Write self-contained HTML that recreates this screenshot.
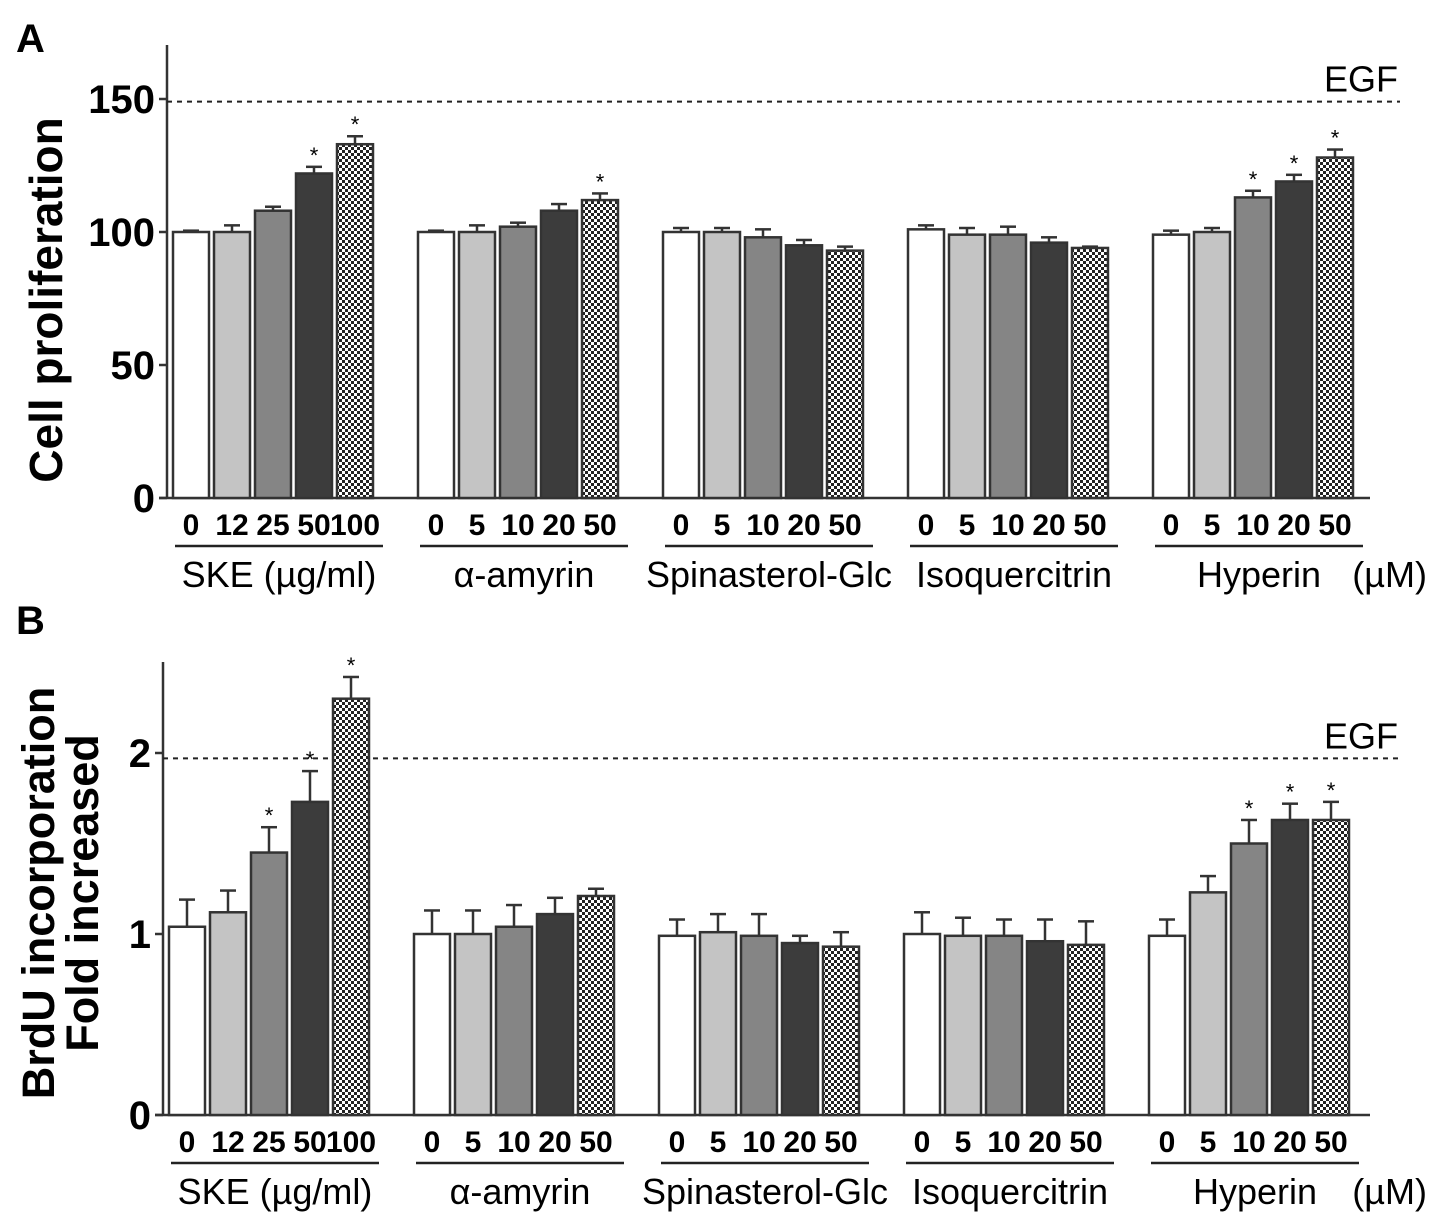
<!DOCTYPE html>
<html><head><meta charset="utf-8"><style>
body{margin:0;background:#fff;}
svg{display:block;font-family:"Liberation Sans",sans-serif;}
</style></head><body>
<svg id="c" width="1441" height="1228" viewBox="0 0 1441 1228">
<defs>
<pattern id="chk" width="6" height="6" patternUnits="userSpaceOnUse">
<rect width="6" height="6" fill="#fff"/><rect width="3" height="3" fill="#222"/><rect x="3" y="3" width="3" height="3" fill="#222"/>
</pattern>
</defs>
</svg>
<script>
const groupsA = ["SKE (\u00b5g/ml)","\u03b1-amyrin","Spinasterol-Glc","Isoquercitrin","Hyperin"];
const dosesA = [["0","12","25","50","100"],["0","5","10","20","50"],["0","5","10","20","50"],["0","5","10","20","50"],["0","5","10","20","50"]];
const valuesA = [[100,100,108,122,133],[100,100,102,108,112],[100,100,98,95,93],[101,99,99,96,94],[99,100,113,119,128]];
const errorsA = [[0.5,2.5,1.5,2.5,3],[0.5,2.5,1.5,2.5,2.5],[1.5,1.5,3,2,1.5],[1.5,2.5,3,2,0.5],[1.5,1.5,2.5,2.5,3]];
const starsA = [[0,0,0,1,1],[0,0,0,0,1],[0,0,0,0,0],[0,0,0,0,0],[0,0,1,1,1]];
const ticksA = [0,50,100,150];
const egfA = 149;
const valuesB = [[1.04,1.12,1.45,1.73,2.30],[1.0,1.0,1.04,1.11,1.21],[0.99,1.01,0.99,0.95,0.93],[1.0,0.99,0.99,0.96,0.94],[0.99,1.23,1.50,1.63,1.63]];
const errorsB = [[0.15,0.12,0.14,0.17,0.12],[0.13,0.13,0.12,0.09,0.04],[0.09,0.1,0.12,0.04,0.08],[0.12,0.1,0.09,0.12,0.13],[0.09,0.09,0.13,0.09,0.1]];
const starsB = [[0,0,1,1,1],[0,0,0,0,0],[0,0,0,0,0],[0,0,0,0,0],[0,0,1,1,1]];
const ticksB = [0,1,2];
const egfB = 1.97;

const svg = document.getElementById('c');
const NS = "http://www.w3.org/2000/svg";
const fills = ["#ffffff","#c4c4c4","#858585","#3c3c3c","url(#chk)"];
function mk(tag, attrs, text){
  const e = document.createElementNS(NS, tag);
  for (const k in attrs) e.setAttribute(k, attrs[k]);
  if (text !== undefined) e.textContent = text;
  svg.appendChild(e);
  return e;
}
function panel(p){
  const y = v => p.y0 - (v - p.vmin) * p.scale;
  const xb = (g, i) => p.x0 + g * 245 + i * 41;
  let e = mk('line',{x1:p.ax,y1:p.top,x2:p.ax,y2:p.y0,stroke:'#333','stroke-width':2.5});
  
  
  e = mk('line',{x1:p.ax-8,y1:p.y0,x2:1370,y2:p.y0,stroke:'#333','stroke-width':2.5});
  
  
  p.ticks.forEach(t => {
    mk('line',{x1:p.ax-8,y1:y(t),x2:p.ax,y2:y(t),stroke:'#333','stroke-width':2.5});
    const tl = mk('text',{x:p.ax-12,y:y(t)+14,'text-anchor':'end','font-size':40,'font-weight':'bold'}, String(t));
    
    
  });
  e = mk('line',{x1:p.ax,y1:y(p.egf),x2:1400,y2:y(p.egf),stroke:'#222','stroke-width':2,'stroke-dasharray':'5,5'});
  
  
  e = mk('text',{x:1398,y:y(p.egf)-10,'text-anchor':'end','font-size':36}, 'EGF');
  
  
  groupsA.forEach((gname, g) => {
    p.vals[g].forEach((v, i) => {
      const x = xb(g, i), w = 36;
      const top = y(v), ey = y(v + p.errs[g][i]);
      const el = mk('line',{x1:x+w/2,y1:top,x2:x+w/2,y2:ey,stroke:'#333','stroke-width':2.5});
      
      
      mk('line',{x1:x+w/2-8,y1:ey,x2:x+w/2+8,y2:ey,stroke:'#333','stroke-width':2.5});
      const r = mk('rect',{x:x,y:top,width:w,height:p.y0-top,fill:fills[i],stroke:'#333','stroke-width':2.5});
      
      
      if (p.stars[g][i]) {
        const s = mk('text',{x:x+w/2,y:ey-4,'text-anchor':'middle','font-size':22}, '*');
        
        
      }
      const d = mk('text',{x:x+w/2,y:p.y0+37,'text-anchor':'middle','font-size':30,'font-weight':'bold'}, dosesA[g][i]);
      
      
    });
    const gx = xb(g,0);
    mk('line',{x1:gx+2,y1:p.y0+48,x2:gx+210,y2:p.y0+48,stroke:'#222','stroke-width':2.5});
    const gl = mk('text',{x:gx+106,y:p.y0+89,'text-anchor':'middle','font-size':36}, gname);
    
    
  });
  e = mk('text',{x:1427,y:p.y0+89,'text-anchor':'end','font-size':36}, '(\u00b5M)');
  
  
}
panel({id:'a',ax:167,top:45,y0:498,vmin:0,scale:2.66,x0:173,ticks:ticksA,egf:egfA,vals:valuesA,errs:errorsA,stars:starsA});
panel({id:'b',ax:163,top:662,y0:1115,vmin:0,scale:181,x0:169,ticks:ticksB,egf:egfB,vals:valuesB,errs:errorsB,stars:starsB});

let t = mk('text',{x:16,y:52,'font-size':40,'font-weight':'bold'}, 'A');


t = mk('text',{x:16,y:634,'font-size':40,'font-weight':'bold'}, 'B');


t = mk('text',{x:0,y:0,'font-size':46,'font-weight':'bold','text-anchor':'middle',transform:'translate(62,300) rotate(-90)'}, 'Cell proliferation');


t = mk('text',{x:0,y:0,'font-size':45,'font-weight':'bold','text-anchor':'middle',transform:'translate(54,893) rotate(-90)'}, 'BrdU incorporation');


t = mk('text',{x:0,y:0,'font-size':45,'font-weight':'bold','text-anchor':'middle',transform:'translate(98,893) rotate(-90)'}, 'Fold increased');


</script>
</body></html>
